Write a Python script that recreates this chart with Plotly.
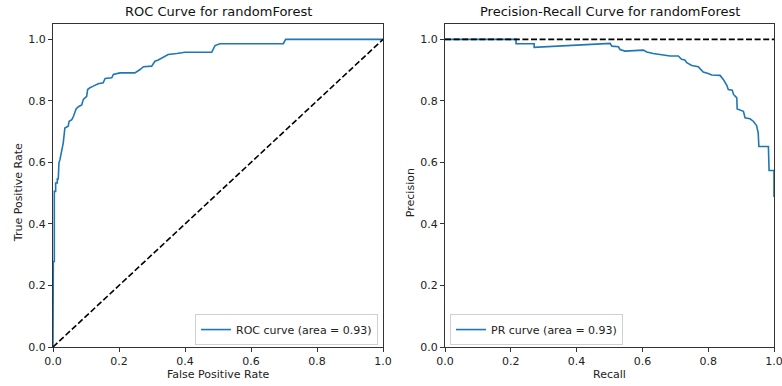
import plotly.graph_objects as go

# ROC curve data
roc_fpr = [0.0, 0.0, 0.001, 0.001, 0.004, 0.004, 0.008, 0.008, 0.013, 0.013, 0.016, 0.018, 0.021, 0.026,
           0.031, 0.036, 0.046, 0.049, 0.057, 0.062, 0.070, 0.077, 0.087, 0.092, 0.102, 0.105,
           0.112, 0.122, 0.137, 0.152, 0.158, 0.178, 0.183, 0.203, 0.248, 0.264, 0.274, 0.299,
           0.309, 0.319, 0.334, 0.349, 0.375, 0.400, 0.481, 0.491, 0.506, 0.698, 0.705, 1.0]
roc_tpr = [0.0, 0.218, 0.218, 0.278, 0.278, 0.506, 0.506, 0.533, 0.533, 0.546, 0.546, 0.598, 0.609, 0.631,
           0.663, 0.712, 0.718, 0.734, 0.739, 0.750, 0.774, 0.781, 0.787, 0.805, 0.815, 0.837,
           0.843, 0.848, 0.856, 0.859, 0.873, 0.875, 0.886, 0.891, 0.891, 0.902, 0.911, 0.913,
           0.929, 0.933, 0.943, 0.951, 0.954, 0.958, 0.958, 0.980, 0.986, 0.986, 1.0, 1.0]

# Precision-recall data
pr_recall = [0.0, 0.216, 0.216, 0.271, 0.271, 0.502, 0.507, 0.527, 0.532, 0.547, 0.603, 0.613,
             0.633, 0.663, 0.684, 0.709, 0.719, 0.729, 0.735, 0.750, 0.770, 0.775, 0.785, 0.800,
             0.811, 0.836, 0.846, 0.857, 0.861, 0.873, 0.877, 0.887, 0.888, 0.907, 0.912, 0.927,
             0.937, 0.947, 0.952, 0.954, 0.983, 0.985, 0.998, 1.0, 1.0]
pr_precision = [1.0, 1.0, 0.986, 0.986, 0.974, 0.987, 0.978, 0.976, 0.967, 0.962, 0.965, 0.959,
                0.954, 0.950, 0.946, 0.946, 0.935, 0.933, 0.924, 0.915, 0.911, 0.905, 0.894, 0.889,
                0.884, 0.883, 0.870, 0.850, 0.837, 0.835, 0.821, 0.810, 0.774, 0.766, 0.745, 0.742,
                0.734, 0.720, 0.696, 0.652, 0.652, 0.574, 0.574, 0.574, 0.488]

diag_x = [0, 1]
diag_y = [0, 1]
base_x = [0, 1]
base_y = [1, 1]

roc_label = "ROC curve (area = 0.93)"
pr_label = "PR curve (area = 0.93)"
titles = ["ROC Curve for randomForest", "Precision-Recall Curve for randomForest"]
x_titles = ["False Positive Rate", "Recall"]
y_titles = ["True Positive Rate", "Precision"]
tickvals = [0.0, 0.2, 0.4, 0.6, 0.8, 1.0]
ticktext = ["0.0", "0.2", "0.4", "0.6", "0.8", "1.0"]

BLUE = "#1f77b4"
FONT = "DejaVu Sans"
TXT = "#222"
W, H = 782, 386
L, R, T, B = 53, 8, 24, 39
pw = W - L - R
ph = H - T - B
dom1 = [0, 330 / pw]
dom2 = [(445 - L) / pw, 1]

fig = go.Figure()
fig.add_trace(go.Scatter(x=roc_fpr, y=roc_tpr, mode="lines", name=roc_label,
                         line=dict(color=BLUE, width=1.6), xaxis="x", yaxis="y", legend="legend"))
fig.add_trace(go.Scatter(x=diag_x, y=diag_y, mode="lines", showlegend=False,
                         line=dict(color="black", width=1.6, dash="6px,2.6px"), xaxis="x", yaxis="y"))
fig.add_trace(go.Scatter(x=pr_recall, y=pr_precision, mode="lines", name=pr_label,
                         line=dict(color=BLUE, width=1.6), xaxis="x2", yaxis="y2", legend="legend2"))
fig.add_trace(go.Scatter(x=base_x, y=base_y, mode="lines", showlegend=False,
                         line=dict(color="black", width=1.6, dash="6px,2.6px"), xaxis="x2", yaxis="y2"))

axis_common = dict(range=[0, 1], tickvals=tickvals, ticktext=ticktext, showgrid=False, zeroline=False,
                   showline=True, linecolor="#333", linewidth=1, mirror=True, ticks="outside",
                   ticklen=4, tickcolor="#333", tickfont=dict(size=11, color=TXT, family=FONT),
                   automargin=False, ticklabeloverflow="allow")
yaxis_common = dict(axis_common, range=[0, 1.05])

leg_common = dict(font=dict(size=11, color=TXT, family=FONT), bgcolor="rgba(255,255,255,0.8)",
                  bordercolor="#d0d0d0", borderwidth=1, itemwidth=30)

annotations = []
for dom, t in zip([dom1, dom2], titles):
    annotations.append(dict(text=t, x=(dom[0] + dom[1]) / 2, y=1, xref="paper", yref="paper",
                            xanchor="center", yanchor="bottom", yshift=3, showarrow=False,
                            font=dict(size=13, color="#111", family=FONT)))
for dom, t in zip([dom1, dom2], x_titles):
    annotations.append(dict(text=t, x=(dom[0] + dom[1]) / 2, y=-(374 - 347) / ph, xref="paper",
                            yref="paper", xanchor="center", yanchor="middle", showarrow=False,
                            font=dict(size=11, color=TXT, family=FONT)))
for px, t in zip([18, 410], y_titles):
    annotations.append(dict(text=t, x=(px - L) / pw, y=0.5 / 1.05, xref="paper",
                            yref="paper", xanchor="center", yanchor="middle", textangle=-90,
                            showarrow=False, font=dict(size=11, color=TXT, family=FONT)))

fig.update_layout(
    width=W, height=H, margin=dict(l=L, r=R, t=T, b=B, autoexpand=False),
    paper_bgcolor="white", plot_bgcolor="white",
    font=dict(family=FONT, color=TXT),
    xaxis=dict(axis_common, domain=dom1, anchor="y"),
    yaxis=dict(yaxis_common, domain=[0, 1], anchor="x"),
    xaxis2=dict(axis_common, domain=dom2, anchor="y2"),
    yaxis2=dict(yaxis_common, domain=[0, 1], anchor="x2"),
    legend=dict(leg_common, x=(378 - L) / pw, y=0.006, xanchor="right", yanchor="bottom"),
    legend2=dict(leg_common, x=(450 - L) / pw, y=0.006, xanchor="left", yanchor="bottom"),
    annotations=annotations,
)

fig.write_html("out.html", config={"displayModeBar": False},
               post_script="document.body.style.margin='0';document.body.style.padding='0';")
